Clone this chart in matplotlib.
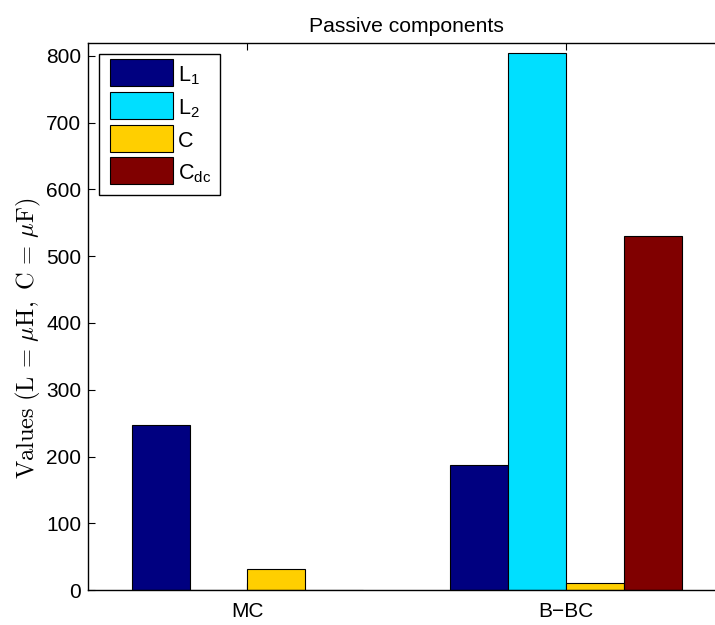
import matplotlib
matplotlib.use("Agg")
import matplotlib.pyplot as plt
from matplotlib.container import BarContainer
from matplotlib.legend_handler import HandlerPatch, update_from_first_child
from matplotlib.patches import Rectangle
import numpy as np

plt.rcParams["font.family"] = ["Liberation Sans", "DejaVu Sans"]
plt.rcParams["mathtext.fontset"] = "custom"
plt.rcParams["mathtext.rm"] = "Liberation Sans"
plt.rcParams["mathtext.it"] = "Liberation Sans:italic"
plt.rcParams["mathtext.bf"] = "Liberation Sans:bold"

# Data
topologies = ["MC", "B\u2212BC"]
series_names = [r"L$_\mathrm{1}$", r"L$_\mathrm{2}$", "C", r"C$_\mathrm{dc}$"]
L1_values = [247, 187]
L2_values = [0, 804]
C_values = [32, 11]
Cdc_values = [0, 530]
series_colors = ["#000080", "#00DFFF", "#FFCF00", "#800000"]

values = [L1_values, L2_values, C_values, Cdc_values]

fig = plt.figure(figsize=(7.15, 6.25), dpi=100)
ax = fig.add_axes([88.3 / 715, 1 - 590.3 / 625, (725 - 88.3) / 715, (590.3 - 43) / 625])

x = np.arange(1, len(topologies) + 1)
bar_w = 0.182
offsets = (np.arange(len(values)) - (len(values) - 1) / 2) * bar_w
for vals, off, col, name in zip(values, offsets, series_colors, series_names):
    ax.bar(x + off, vals, width=bar_w, color=col, edgecolor="black",
           linewidth=0.8, label=name, zorder=2)

ax.set_xlim(0.5, 2.5)
ax.set_ylim(0, 819)
ax.set_xticks(x)
ax.set_xticklabels(topologies)
ax.set_yticks(np.arange(0, 801, 100))
ax.tick_params(axis="both", direction="in", length=5, width=0.8,
               labelsize=15, top=True, right=True)
ax.tick_params(axis="x", pad=8.5)
ax.tick_params(axis="y", pad=5)
for s in ax.spines.values():
    s.set_linewidth(1.0)

ax.set_title("Passive components", fontsize=15.2, pad=8)
ax.set_ylabel(r"$\mathrm{Values}\ (\mathrm{L}\,=\,\mu\mathrm{H},\ \mathrm{C}\,=\,\mu\mathrm{F})$",
              fontsize=17.6, math_fontfamily="cm")
ax.yaxis.set_label_coords(-0.071, 0.46)


def full_box_patch(legend, orig_handle, xdescent, ydescent, width, height, fontsize):
    # swatch fills the whole handle box, inset slightly from the left
    inset = 0.08 * fontsize
    return Rectangle((-xdescent + inset, -ydescent), width - inset, height + ydescent)


swatch_handler = HandlerPatch(patch_func=full_box_patch, update_func=update_from_first_child)
leg = ax.legend(loc="upper left", fontsize=15.5, frameon=True, fancybox=False,
                edgecolor="black", framealpha=1, handlelength=3.02,
                handleheight=1.255, handletextpad=0.2, labelspacing=0.4,
                borderpad=0.43, borderaxespad=0.5,
                handler_map={BarContainer: swatch_handler})
leg.get_frame().set_linewidth(1.0)

fig.savefig("out.png", dpi=100)
